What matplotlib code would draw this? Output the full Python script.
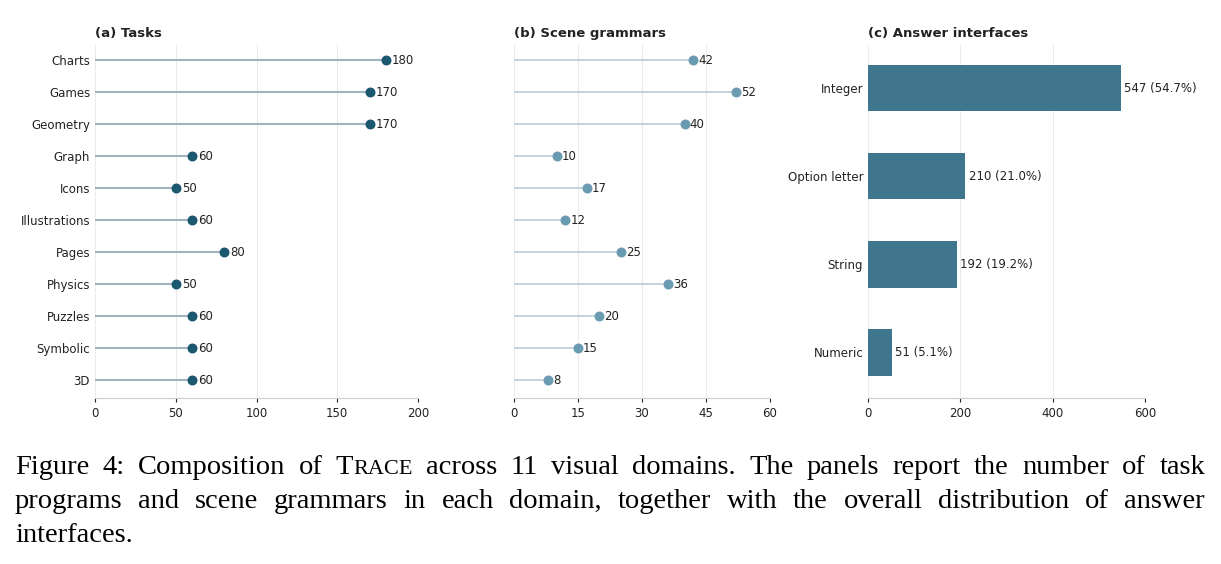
import matplotlib
matplotlib.use("Agg")
import matplotlib.pyplot as plt

domains = ["Charts","Games","Geometry","Graph","Icons","Illustrations","Pages","Physics","Puzzles","Symbolic","3D"]
tasks = [180,170,170,60,50,60,80,50,60,60,60]
grammars = [42,52,40,10,17,12,25,36,20,15,8]
interfaces = ["Integer","Option letter","String","Numeric"]
iface_counts = [547,210,192,51]
iface_pct = [54.7,21.0,19.2,5.1]

fig = plt.figure(figsize=(12.21,5.64), dpi=100)
plt.rcParams['font.family'] = ['DejaVu Sans']
H = 1-398/564; T = 1-45/564
axa = fig.add_axes([95/1221, H, 323/1221, T-H])
axb = fig.add_axes([514/1221, H, 256/1221, T-H])
axc = fig.add_axes([868/1221, H, 277/1221, T-H])
LF = 8.5

def style(ax):
    for s in ["top","right","left"]:
        ax.spines[s].set_visible(False)
    ax.spines["bottom"].set_color("#cccccc")
    ax.grid(axis="x", color="#ebebeb", lw=0.8)
    ax.set_axisbelow(True)
    ax.tick_params(axis="y", length=0, labelsize=LF, colors="#222222")
    ax.tick_params(axis="x", length=3, labelsize=LF, colors="#222222")

y = list(range(len(domains)))
axa.hlines(y, 0, tasks, color="#9fb3c0", lw=1.5, zorder=2)
axa.scatter(tasks, y, s=38, color="#1c5870", zorder=3)
for v, yy in zip(tasks, y):
    axa.text(v+4, yy, str(v), va="center", fontsize=LF, color="#222222")
axa.set_yticks(y); axa.set_yticklabels(domains)
axa.set_ylim(10.56, -0.47); axa.set_xlim(0, 200)
axa.set_xticks([0,50,100,150,200])
style(axa)
axa.set_title("(a) Tasks", loc="left", fontsize=9.5, fontweight="bold", pad=6, color="#222222")

axb.hlines(y, 0, grammars, color="#c5d4dc", lw=1.5, zorder=2)
axb.scatter(grammars, y, s=38, color="#6b9bb1", zorder=3)
for v, yy in zip(grammars, y):
    axb.text(v+1.2, yy, str(v), va="center", fontsize=LF, color="#222222")
axb.set_yticks(y); axb.set_yticklabels([])
axb.set_ylim(10.56, -0.47); axb.set_xlim(0, 60)
axb.set_xticks([0,15,30,45,60])
style(axb)
axb.set_title("(b) Scene grammars", loc="left", fontsize=9.5, fontweight="bold", pad=6, color="#222222")

yc = list(range(len(interfaces)))
axc.barh(yc, iface_counts, height=0.53, color="#3f758d", zorder=2)
for v, p, yy in zip(iface_counts, iface_pct, yc):
    axc.text(v+8, yy, f"{v} ({p:.1f}%)", va="center", fontsize=LF, color="#222222")
axc.set_yticks(yc); axc.set_yticklabels(interfaces)
axc.set_ylim(3.52, -0.49); axc.set_xlim(0, 600)
axc.set_xticks([0,200,400,600])
style(axc)
axc.set_title("(c) Answer interfaces", loc="left", fontsize=9.5, fontweight="bold", pad=6, color="#222222")

serif = ['Liberation Serif', 'DejaVu Serif']
fs = 20.5
fig.canvas.draw()
r = fig.canvas.get_renderer()
L, R = 15, 1205

def width(parts):
    tot = 0
    for s, f in parts:
        t = fig.text(0, 0, s, fontsize=f, family=serif)
        tot += t.get_window_extent(r).width
        t.remove()
    return tot

def line(words, ypx, justify=True):
    # words: list of list of (text, size) parts
    ws = [width(p) for p in words]
    if justify and len(words) > 1:
        gap = (R - L - sum(ws)) / (len(words) - 1)
    else:
        gap = width([(" ", fs)])
    x = L
    for parts, w in zip(words, ws):
        xx = x
        for s, f in parts:
            t = fig.text(xx/1221, 1-ypx/564, s, fontsize=f, family=serif)
            xx += t.get_window_extent(r).width
        x += w + gap

def simple(text):
    return [[(w, fs)] for w in text.split()]

l1 = simple("Figure 4: Composition of") + [[("T", fs), ("RACE", fs*0.78)]] + \
     simple("across 11 visual domains. The panels report the number of task")
line(l1, 474)
line(simple("programs and scene grammars in each domain, together with the overall distribution of answer"), 508)
line(simple("interfaces."), 542, justify=False)

fig.savefig("out.png", dpi=100)
